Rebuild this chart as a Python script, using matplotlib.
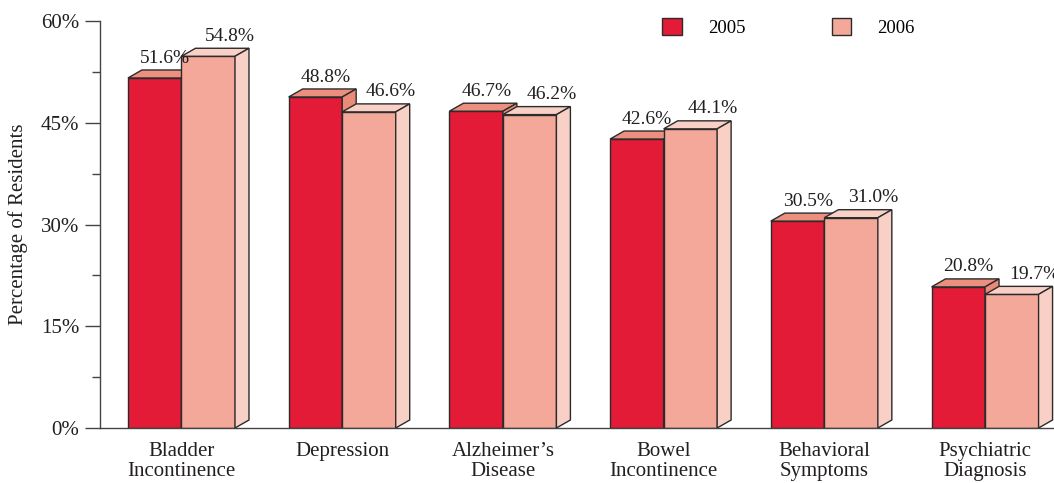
import numpy as np
import matplotlib.pyplot as plt
from matplotlib.patches import Polygon, Patch

plt.rcParams['font.family'] = ['Liberation Serif', 'DejaVu Serif']

categories = ["Bladder\nIncontinence", "Depression", "Alzheimer\u2019s\nDisease",
              "Bowel\nIncontinence", "Behavioral\nSymptoms", "Psychiatric\nDiagnosis"]
vals_2005 = [51.6, 48.8, 46.7, 42.6, 30.5, 20.8]
vals_2006 = [54.8, 46.6, 46.2, 44.1, 31.0, 19.7]
years = ["2005", "2006"]

front = ["#E31B37", "#F4A899"]
top = ["#EC8F7F", "#F9D0C6"]
side = ["#EA8A79", "#F9D0C6"]
edge = "#2b2b2b"

W, H = 1054, 483
fig = plt.figure(figsize=(W / 100, H / 100), dpi=100)
ax = fig.add_axes([100 / W, 55 / H, 954 / W, 407 / H])

x = np.arange(len(categories))
bw = 0.333
dx = 0.087   # depth offset, x units
dy = 1.18    # depth offset, percent units
lab_off = [0.02, 0.094]

for i in range(len(categories)):
    for j, vals in enumerate([vals_2005, vals_2006]):
        v = vals[i]
        x0 = x[i] - bw + j * bw
        x1 = x0 + bw
        ax.bar(x0, v, width=bw, align='edge', color=front[j], edgecolor=edge,
               linewidth=1.0, zorder=2)
        ax.add_patch(Polygon([(x0, v), (x0 + dx, v + dy), (x1 + dx, v + dy), (x1, v)],
                             closed=True, facecolor=top[j], edgecolor=edge,
                             linewidth=1.0, zorder=2))
        ax.add_patch(Polygon([(x1, 0), (x1 + dx, dy), (x1 + dx, v + dy), (x1, v)],
                             closed=True, facecolor=side[j], edgecolor=edge,
                             linewidth=1.0, zorder=2))
        ax.text(x0 + bw / 2 + dx / 2 + lab_off[j], v + dy + 1.1, f"{v:.1f}%",
                ha='center', va='baseline', fontsize=14, color='#231f20', zorder=3)

ax.set_xlim(-0.507, 5.429)
ax.set_ylim(0, 60)
ax.set_xticks(x)
ax.set_xticklabels(categories, fontsize=15, linespacing=1.1, color='#231f20')
ax.tick_params(axis='x', length=0, pad=10)
ax.set_yticks([0, 15, 30, 45, 60])
ax.set_yticklabels(["0%", "15%", "30%", "45%", "60%"], fontsize=15, color='#231f20')
ax.set_yticks([7.5, 22.5, 37.5, 52.5], minor=True)
ax.tick_params(axis='y', which='major', length=11, width=1.0, pad=4, color='#444444')
ax.tick_params(axis='y', which='minor', length=6, width=1.0, color='#444444')
ax.set_ylabel("Percentage of Residents", fontsize=15, color='#231f20', labelpad=9)

for s in ['top', 'right']:
    ax.spines[s].set_visible(False)
for s in ['left', 'bottom']:
    ax.spines[s].set_color('#444444')
    ax.spines[s].set_linewidth(1.0)

handles = [Patch(facecolor=front[k], edgecolor=edge, linewidth=1.0) for k in range(2)]
ax.legend(handles, years, loc='upper left', bbox_to_anchor=(662 / W, 1 - 18 / H),
          bbox_transform=fig.transFigure, ncol=2, frameon=False, fontsize=13.5,
          handlelength=1.05, handleheight=1.05, handletextpad=1.4,
          columnspacing=4.6, borderpad=0, borderaxespad=0)

fig.savefig("out.png", dpi=100)
